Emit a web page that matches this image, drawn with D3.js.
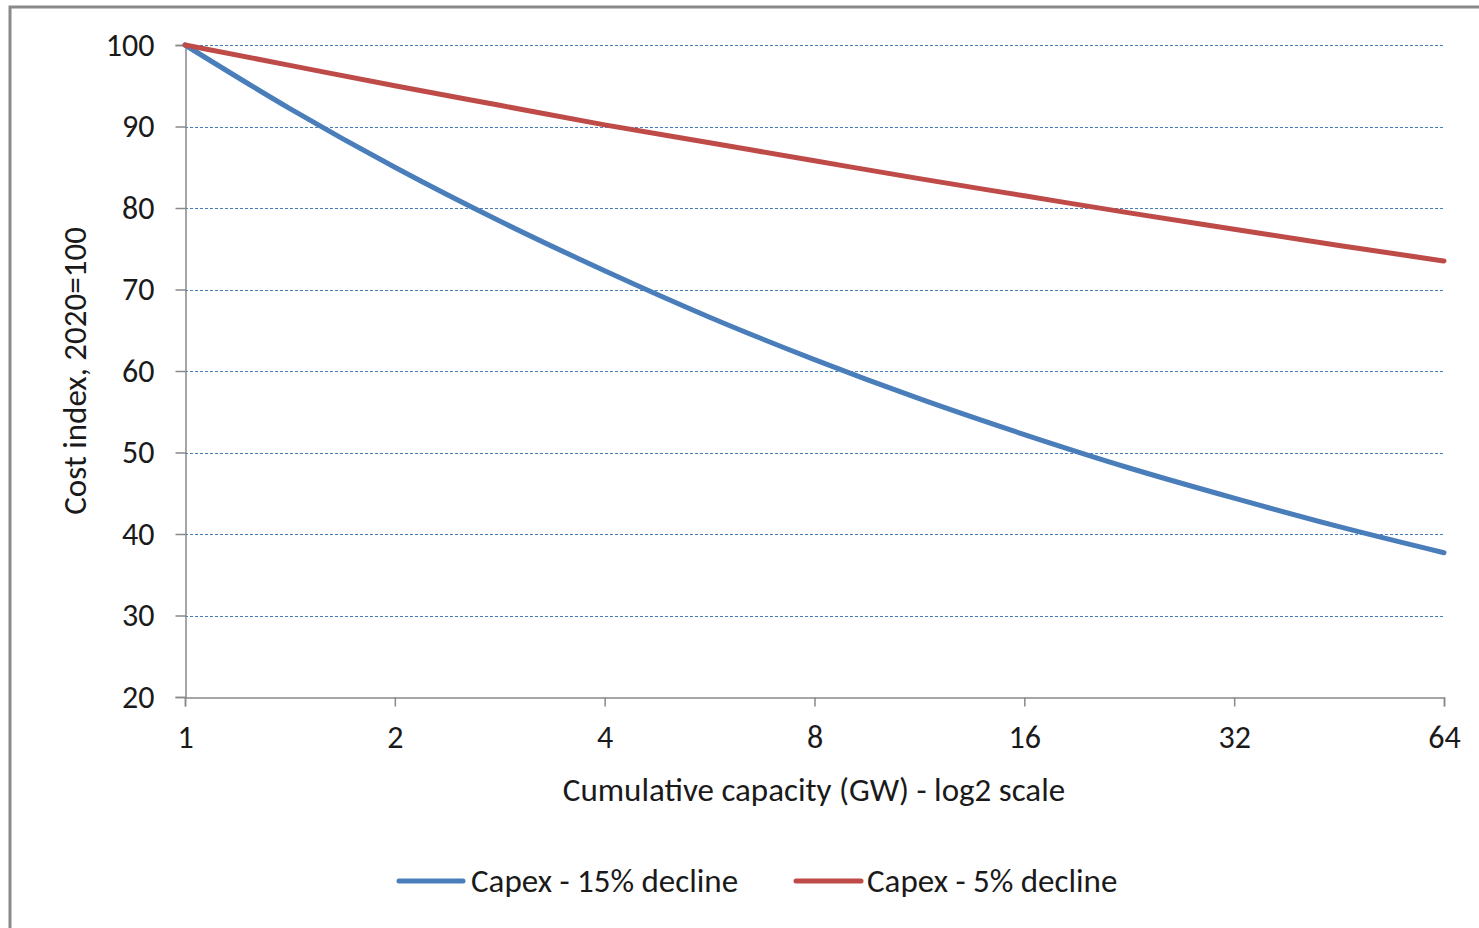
<!DOCTYPE html>
<html>
<head>
<meta charset="utf-8">
<script src="https://cdn.jsdelivr.net/npm/d3@7"></script>
<style>
  html, body { margin: 0; padding: 0; background: #fff; }
  svg { display: block; }
  text { font-family: Carlito, Calibri, Lato, "Open Sans", sans-serif; fill: #1a1a1a; }
</style>
</head>
<body>
<svg id="chart" width="1479" height="928"></svg>
<script>
// ---- Data ----
const capacityGW = [1, 1.414, 2, 2.828, 4, 5.657, 8, 11.31, 16, 22.63, 32, 45.25, 64];
const capex15 = [100, 92.2, 85, 78.4, 72.3, 66.6, 61.4, 56.6, 52.2, 48.1, 44.4, 40.9, 37.7];
const capex5  = [100, 97.5, 95, 92.6, 90.2, 88.0, 85.8, 83.6, 81.5, 79.4, 77.4, 75.4, 73.5];
const seriesNames = ["Capex - 15% decline", "Capex - 5% decline"];
const xTickValues = [1, 2, 4, 8, 16, 32, 64];
const yTickValues = [20, 30, 40, 50, 60, 70, 80, 90, 100];
const xTitle = "Cumulative capacity (GW) - log2 scale";
const yTitle = "Cost index, 2020=100";

// ---- Layout ----
const svg = d3.select("#chart");
const colors = ["#4A7EBB", "#BE4B48"];
const axisColor = "#888888";
const fontSize = 32;

// outer frame
svg.append("rect")
  .attr("x", 10).attr("y", 7)
  .attr("width", 1600).attr("height", 1000)
  .attr("fill", "#fff")
  .attr("stroke", "#8a8a8a").attr("stroke-width", 3);

const x = d3.scaleLog().base(2).domain([1, 64]).range([185, 1444]);
const y = d3.scaleLinear().domain([20, 100]).range([697, 45]);

// gridlines
svg.append("g").selectAll("line")
  .data(yTickValues.filter(v => v > 20))
  .join("line")
  .attr("x1", x(1)).attr("x2", x(64))
  .attr("y1", d => Math.round(y(d)) + 0.5).attr("y2", d => Math.round(y(d)) + 0.5)
  .attr("stroke", "#4A7EBB").attr("stroke-width", 1)
  .attr("stroke-dasharray", "3,2");

// y axis
const yAxis = d3.axisLeft(y).tickValues(yTickValues).tickSize(10).tickPadding(21).tickFormat(d3.format("d"));
const gy = svg.append("g").attr("transform", `translate(${x(1) + 0.5},0)`).call(yAxis);
gy.select(".domain").attr("stroke", axisColor).attr("stroke-width", 1.5);
gy.selectAll(".tick line").attr("stroke", axisColor).attr("stroke-width", 1.5);
gy.selectAll(".tick text").attr("font-size", fontSize).attr("fill", "#1a1a1a")
  .style("font-family", "Carlito, Calibri, Lato, sans-serif");

// x axis
const xAxis = d3.axisBottom(x).tickValues(xTickValues).tickSize(9).tickPadding(19).tickFormat(d3.format("d"));
const gx = svg.append("g").attr("transform", `translate(0,${y(20) + 0.5})`).call(xAxis);
gx.select(".domain").attr("stroke", axisColor).attr("stroke-width", 1.5);
gx.selectAll(".tick line").attr("stroke", axisColor).attr("stroke-width", 1.5);
gx.selectAll(".tick text").attr("font-size", fontSize).attr("fill", "#1a1a1a")
  .style("font-family", "Carlito, Calibri, Lato, sans-serif");

// lines
const line = d3.line().x((d, i) => x(capacityGW[i])).y(d => y(d)).curve(d3.curveMonotoneX);
[capex15, capex5].forEach((s, i) => {
  svg.append("path").datum(s)
    .attr("d", line)
    .attr("fill", "none")
    .attr("stroke", colors[i])
    .attr("stroke-width", 5)
    .attr("stroke-linejoin", "round")
    .attr("stroke-linecap", "round");
});

// axis titles
svg.append("text")
  .attr("x", 814).attr("y", 801)
  .attr("text-anchor", "middle")
  .attr("font-size", fontSize + 1)
  .text(xTitle);

svg.append("text")
  .attr("transform", "translate(86,371) rotate(-90)")
  .attr("text-anchor", "middle")
  .attr("font-size", fontSize + 1)
  .text(yTitle);

// legend
const legendItems = [
  { x1: 399, x2: 463, tx: 471 },
  { x1: 796, x2: 861, tx: 867 }
];
legendItems.forEach((it, i) => {
  svg.append("line")
    .attr("x1", it.x1).attr("x2", it.x2)
    .attr("y1", 881).attr("y2", 881)
    .attr("stroke", colors[i]).attr("stroke-width", 5)
    .attr("stroke-linecap", "round");
  svg.append("text")
    .attr("x", it.tx).attr("y", 892)
    .attr("font-size", fontSize + 1)
    .text(seriesNames[i]);
});
</script>
</body>
</html>
